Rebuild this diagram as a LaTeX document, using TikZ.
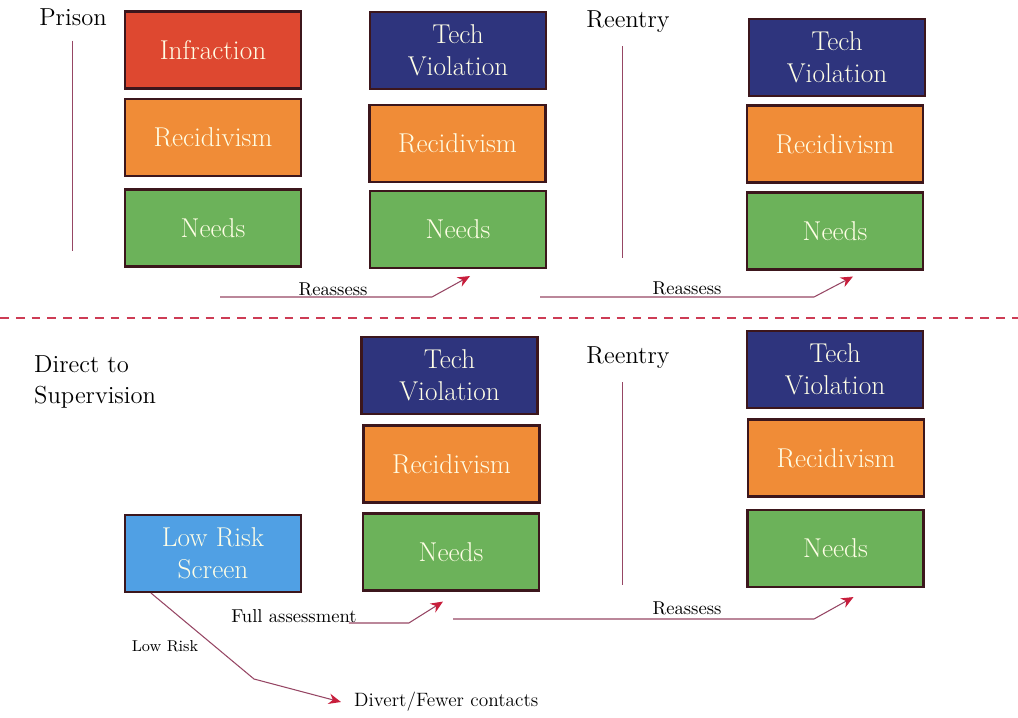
\documentclass[tikz,border=0pt]{standalone}
\usetikzlibrary{calc}
\usetikzlibrary{arrows.meta}

\definecolor{infrred}{RGB}{222,72,48}
\definecolor{technavy}{RGB}{46,52,125}
\definecolor{recorange}{RGB}{240,140,55}
\definecolor{needgreen}{RGB}{108,178,90}
\definecolor{screenblue}{RGB}{80,160,228}
\definecolor{boxline}{RGB}{60,22,28}
\definecolor{linkcol}{RGB}{150,70,100}
\definecolor{tipred}{RGB}{200,30,60}
\definecolor{dashred}{RGB}{205,60,85}

\tikzset{
 riskbox/.style={draw=boxline, line width=1.2pt, fill=#1, minimum width=3.52cm, minimum height=1.54cm,
   align=center, text=white!90!yellow, font=\fontsize{15.5}{18}\selectfont, inner sep=2pt},
 phase/.style={font=\fontsize{14}{18}\selectfont, align=left},
 link/.style={linkcol, line width=0.6pt, -{Stealth[length=7pt,width=6pt,color=tipred]}},
 tag/.style={font=\fontsize{10.6}{12}\selectfont, anchor=base}
}

\begin{document}
\begin{tikzpicture}[x=0.02cm, y=-0.02cm]
\useasboundingbox (0,0) rectangle (1018,717);

% boxes
\foreach \nm/\x/\y/\col/\txt in {
  infr/213/50/infrred/Infraction, recA/213/137.5/recorange/Recidivism, needA/213/228/needgreen/Needs,
  techB/458/50.5/technavy/{Tech\\Violation}, recB/457.5/143.5/recorange/Recidivism, needB/458/229.5/needgreen/Needs,
  techC/837/57.5/technavy/{Tech\\Violation}, recC/835/144/recorange/Recidivism, needC/835/231/needgreen/Needs,
  techD/449.5/375.5/technavy/{Tech\\Violation}, recD/451.5/464/recorange/Recidivism, needD/451/552/needgreen/Needs,
  techE/835/369.5/technavy/{Tech\\Violation}, recE/836/458/recorange/Recidivism, needE/835.5/548.5/needgreen/Needs,
  screen/213/553.5/screenblue/{Low Risk\\Screen}} {
 \node[riskbox=\col] (\nm) at (\x,\y) {\txt};
}

% phase labels
\node[phase] (prison) at (73,17) {Prison};
\node[phase] (reentA) at (628,22) {Reentry};
\node[phase] (reentB) at (628,358) {Reentry};
\node[phase, anchor=west] (direct) at (28,382) {Direct to\\Supervision};
\draw[linkcol, line width=0.5pt] ([yshift=-5pt,xshift=-0.5pt]prison.south) --++(0,210);
\draw[linkcol, line width=0.5pt] ([yshift=-4pt,xshift=-3pt]reentA.south) --++(0,212);
\draw[linkcol, line width=0.5pt] ([yshift=-4pt,xshift=-3pt]reentB.south) --++(0,203);

% separator
\draw[dashred, line width=1.2pt, dash pattern=on 5pt off 4pt] (0,318) -- (1018,318);

% reassess arrows
\coordinate (raA) at (220,297);
\coordinate (raC) at (540,297);
\coordinate (raE) at (453,619);
\draw[link] (raA) --++(212,0) -- ($(needB.south)+(12,7)$);
\draw[link] (raC) --++(274,0) -- ($(needC.south)+(18,6)$);
\draw[link] (raE) --++(361,0) -- ($(needE.south)+(18,9)$);
\node[tag] (tagA) at (333,295) {Reassess};
\node[tag] (tagC) at (687,294) {Reassess};
\node[tag] (tagE) at (687,614) {Reassess};

% full assessment
\node[tag] (full) at (294,622) {Full assessment};
\draw[link] ($(full.base east)+(-14,1)$) --++(60,0) -- ($(needD.south)+(-8,10)$);

% low risk branch
\node[font=\fontsize{11}{13}\selectfont, anchor=west] (divert) at (348,702) {Divert/Fewer contacts};
\node[font=\fontsize{9}{11}\selectfont] (lowrisk) at (165,646) {Low Risk};
\coordinate (bend) at (254,679);
\draw[link] ($(screen.south west)+(27,0)$) -- (bend) -- ([xshift=-4pt]divert.west);
\end{tikzpicture}
\end{document}
